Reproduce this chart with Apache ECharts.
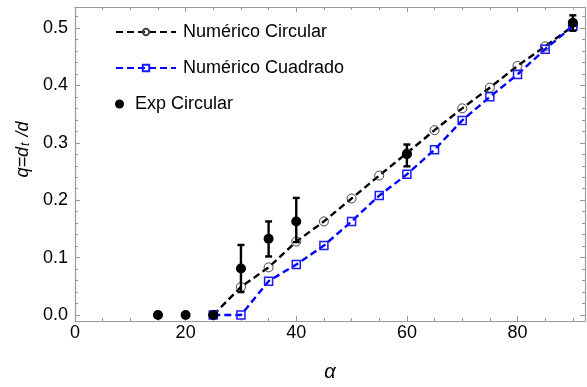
<!DOCTYPE html>
<html><head><meta charset="utf-8">
<script src="https://cdn.jsdelivr.net/npm/echarts@6/dist/echarts.min.js"></script>
<style>html,body{margin:0;padding:0;background:#fff}#c{width:587px;height:387px}</style>
</head><body><div id="c"></div>
<script>
// ---- data ----
const alphaNum = [25, 30, 35, 40, 45, 50, 55, 60, 65, 70, 75, 80, 85, 90];
const numCircular = [0, 0.049, 0.083, 0.128, 0.163, 0.203, 0.243, 0.282, 0.322, 0.360, 0.396, 0.434, 0.468, 0.503];
const numCuadrado = [0, 0, 0.059, 0.088, 0.121, 0.163, 0.208, 0.245, 0.288, 0.339, 0.380, 0.419, 0.463, 0.503];
const expAlpha = [15, 20, 25, 30, 35, 40, 60, 90];
const expCircular = [0, 0, 0, 0.081, 0.133, 0.163, 0.280, 0.509];
const errAlpha = [30, 35, 40, 60, 90];
const errLow = [0.040, 0.102, 0.127, 0.259, 0.495];
const errHigh = [0.122, 0.163, 0.204, 0.297, 0.522];
const seriesNames = ['Numérico Circular', 'Numérico Cuadrado', 'Exp Circular'];
const xLabel = 'α';

// ---- style ----
const FRAME = '#9a9a9a';
const FONT = '"Liberation Sans", Arial, sans-serif';
const X_MIN = 0, X_MAX = 92.2, Y_MIN = -0.0104, Y_MAX = 0.5365;

function xAxis(pos, step, len, labels, line) {
  return {
    type: 'value', position: pos, min: X_MIN, max: X_MAX, interval: step,
    axisLine: { show: line, onZero: false, lineStyle: { color: FRAME, width: 1.2 } },
    axisTick: { show: true, inside: true, length: len, lineStyle: { color: FRAME, width: 1 } },
    axisLabel: { show: labels, showMaxLabel: false, margin: 3, color: '#000', fontFamily: FONT, fontSize: 18 },
    splitLine: { show: false }
  };
}
function yAxis(pos, step, len, labels, line) {
  return {
    type: 'value', position: pos, min: Y_MIN, max: Y_MAX, minInterval: step, maxInterval: step,
    axisLine: { show: line, onZero: false, lineStyle: { color: FRAME, width: 1.2 } },
    axisTick: { show: true, inside: true, length: len, lineStyle: { color: FRAME, width: 1 } },
    axisLabel: { show: labels, showMinLabel: false, showMaxLabel: false, margin: 7, color: '#000',
      fontFamily: FONT, fontSize: 18, formatter: v => v.toFixed(1) },
    splitLine: { show: false }
  };
}

const xs = [
  xAxis('bottom', 20, 5, true, true),
  xAxis('bottom', 5, 3, false, false),
  xAxis('top', 20, 5, false, true),
  xAxis('top', 5, 3, false, false)
];
Object.assign(xs[0], {
  name: xLabel, nameLocation: 'middle', nameGap: 41,
  nameTextStyle: { fontFamily: FONT, fontStyle: 'italic', fontSize: 20, color: '#000' }
});
const ys = [
  yAxis('left', 0.1, 5, true, true),
  yAxis('left', 0.02, 3, false, false),
  yAxis('right', 0.1, 5, false, true),
  yAxis('right', 0.02, 3, false, false)
];
Object.assign(ys[0], {
  name: '{i|q=d}{s|t}{i| /d}', nameLocation: 'middle', nameGap: 33,
  nameTextStyle: {
    padding: [0, 0, 0, 29],
    rich: {
      i: { fontFamily: FONT, fontStyle: 'italic', fontSize: 18, color: '#000' },
      s: { fontFamily: FONT, fontStyle: 'italic', fontSize: 12, color: '#000', padding: [7, 1, 0, 1] }
    }
  }
});

const chart = echarts.init(document.getElementById('c'), null, { renderer: 'canvas' });
chart.setOption({
  animation: false,
  backgroundColor: '#fff',
  grid: { left: 75, top: 7, width: 510, height: 315, containLabel: false },
  xAxis: xs,
  yAxis: ys,
  legend: [
    {
      data: [seriesNames[0], seriesNames[1]], orient: 'vertical', left: 110, top: 17,
      itemWidth: 60, itemHeight: 8, itemGap: 16, selectedMode: false,
      textStyle: { fontFamily: FONT, fontSize: 18, color: '#000', lineHeight: 20, padding: [0, 0, 0, 2] }
    },
    {
      data: [seriesNames[2]], orient: 'vertical', left: 110, top: 89, icon: 'circle',
      itemWidth: 9, itemHeight: 9, selectedMode: false,
      textStyle: { fontFamily: FONT, fontSize: 18, color: '#000', lineHeight: 20, padding: [0, 0, 0, 6] }
    }
  ],
  series: [
    {
      name: seriesNames[0], type: 'line', xAxisIndex: 0, yAxisIndex: 0,
      data: alphaNum.map((a, i) => [a, numCircular[i]]),
      lineStyle: { color: '#000', width: 2.4, type: [7, 4] },
      symbol: 'circle', symbolSize: 9, showAllSymbol: true,
      itemStyle: { color: 'rgba(255,255,255,0)', borderColor: '#444', borderWidth: 1 },
      z: 2, clip: false
    },
    {
      name: seriesNames[1], type: 'line', xAxisIndex: 0, yAxisIndex: 0,
      data: alphaNum.map((a, i) => [a, numCuadrado[i]]),
      lineStyle: { color: '#0000ff', width: 2.4, type: [7, 4] },
      symbol: 'rect', symbolSize: 8, showAllSymbol: true,
      itemStyle: { color: 'rgba(255,255,255,0)', borderColor: '#1a1aff', borderWidth: 1.5 },
      z: 3, clip: false
    },
    {
      name: 'err', type: 'custom', xAxisIndex: 0, yAxisIndex: 0,
      data: errAlpha.map((a, i) => [a, errLow[i], errHigh[i]]),
      encode: { x: 0, y: [1, 2] },
      renderItem: function (params, api) {
        const x = api.value(0);
        const lo = api.coord([x, api.value(1)]);
        const hi = api.coord([x, api.value(2)]);
        const w = 3.5;
        const st = { stroke: '#000', lineWidth: 2.4 };
        return {
          type: 'group', children: [
            { type: 'line', shape: { x1: lo[0], y1: lo[1], x2: hi[0], y2: hi[1] }, style: st },
            { type: 'line', shape: { x1: lo[0] - w, y1: lo[1], x2: lo[0] + w, y2: lo[1] }, style: st },
            { type: 'line', shape: { x1: hi[0] - w, y1: hi[1], x2: hi[0] + w, y2: hi[1] }, style: st }
          ]
        };
      },
      z: 4, clip: false
    },
    {
      name: seriesNames[2], type: 'scatter', xAxisIndex: 0, yAxisIndex: 0,
      data: expAlpha.map((a, i) => [a, expCircular[i]]),
      symbol: 'circle', symbolSize: 10,
      itemStyle: { color: '#000', opacity: 1 },
      z: 5, clip: false
    }
  ]
});
</script>
</body></html>
